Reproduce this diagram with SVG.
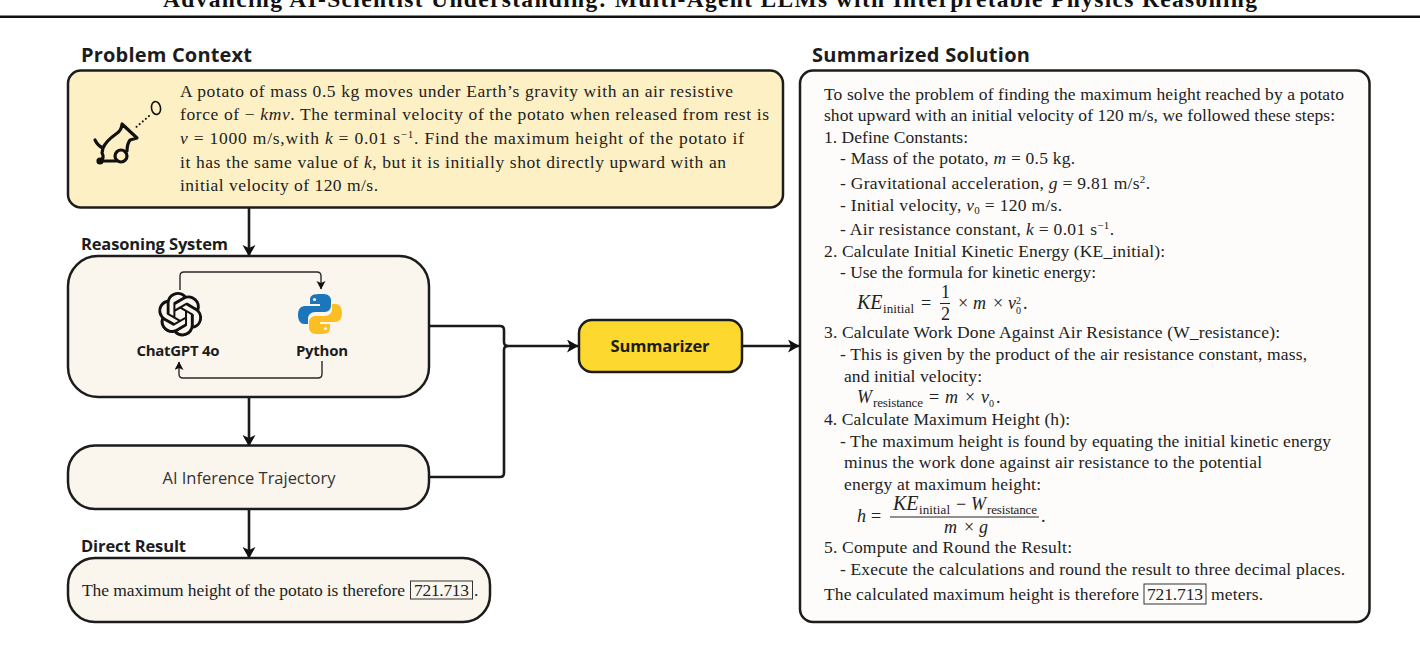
<svg xmlns="http://www.w3.org/2000/svg" xmlns:xlink="http://www.w3.org/1999/xlink" width="1420" height="658" viewBox="0 0 1420 658">
<style>
.box{stroke:#1c1c1c;stroke-width:2.5}
.h{font-family:"Open Sans","Noto Sans",sans-serif;font-weight:700;fill:#1c1c1c}
.t{font-family:"Liberation Serif",serif;font-size:17.5px;fill:#222}
.i{font-style:italic}
.s{font-size:11px}
.m{font-family:"Liberation Serif",serif;font-size:18px;fill:#222}
.mi{font-family:"Liberation Serif",serif;font-size:18px;font-style:italic;fill:#222}
.ke{font-family:"Liberation Serif",serif;font-size:20px;font-style:italic;fill:#222}
.sub{font-family:"Liberation Serif",serif;font-size:13px;fill:#222}
.c{fill:none;stroke:#1a1a1a;stroke-width:2.6}
.ci{fill:none;stroke:#2a2a2a;stroke-width:1.4}
</style>
<defs>
<marker id="a" markerUnits="userSpaceOnUse" markerWidth="12" markerHeight="14" refX="11" refY="6.5" orient="auto"><path d="M0,0 L11.5,6.5 L0,13 L3,6.5 Z" fill="#111"/></marker>
<marker id="b" markerUnits="userSpaceOnUse" markerWidth="10" markerHeight="10" refX="8" refY="4.5" orient="auto"><path d="M0,0 L8.5,4.5 L0,9 L2,4.5 Z" fill="#111"/></marker>
<path id="py" d="M319,294 c-8,0 -9,3 -9,6 v4 h10 v2 h-15 c-4,0 -7,3 -7,9 s3,9 6,9 h4 v-5 c0,-4 3,-7 7,-7 h10 c3,0 6,-3 6,-6 v-6 c0,-3 -3,-6 -7,-6 z"/>
</defs>
<rect width="1420" height="658" fill="#fff"/>
<text x="163" y="7" textLength="1094" style="font-family:'Liberation Serif',serif;font-weight:700;font-size:23.5px;fill:#111">Advancing AI-Scientist Understanding: Multi-Agent LLMs with Interpretable Physics Reasoning</text>
<rect x="0" y="15.5" width="1420" height="2.5" fill="#111"/>

<text class="h" x="81" y="62" font-size="20" textLength="171">Problem Context</text>
<text class="h" x="81" y="250" font-size="16.5" textLength="147">Reasoning System</text>
<text class="h" x="81" y="552" font-size="16.5" textLength="105">Direct Result</text>
<text class="h" x="812" y="62" font-size="20" textLength="218">Summarized Solution</text>

<g id="connectors">
<path class="c" d="M249,208 V256" marker-end="url(#a)"/>
<path class="c" d="M249,397 V446" marker-end="url(#a)"/>
<path class="c" d="M249,509 V558" marker-end="url(#a)"/>
<path class="c" d="M430,326 H500 Q504,326 504,330 V342 Q504,346 508,346 H578" marker-end="url(#a)"/>
<path class="c" d="M430,477 H500 Q504,477 504,473 V350 Q504,346 508,346"/>
<path class="c" d="M743,346 H799" marker-end="url(#a)"/>
</g>

<g id="problem">
<rect class="box" x="68" y="70.500" width="715" height="137" rx="13" fill="#fdf0c4"/>
<g id="cannon" fill="none" stroke="#111" stroke-width="3.2" stroke-linejoin="round" stroke-linecap="round">
<ellipse cx="156" cy="108" rx="4.500" ry="6.500" stroke-width="1.6" transform="rotate(-10 156 108)"/>
<path d="M149,116 L134,129" stroke-width="2" stroke-dasharray="0.1 4"/>
<path d="M122,124 L137,138 L130,140 Q127,144 127,151 M122,124 Q122,130 116,134 Q106,141 103,148 L102,153 Q105,158 100,161 L116,161 M95,140 Q98,146 103,148"/>
<circle cx="121" cy="156" r="6"/>
<circle cx="100" cy="161" r="2" fill="#111"/>
</g>
<text class="t" x="180" y="97" textLength="553">A potato of mass 0.5 kg moves under Earth’s gravity with an air resistive</text>
<text class="t" x="180" y="120" textLength="589">force of  − <tspan class="i">kmv</tspan>. The terminal velocity of the potato when released from rest is</text>
<text class="t" x="180" y="144" textLength="564"><tspan class="i">v</tspan> = 1000 m/s,with <tspan class="i">k</tspan> = 0.01 s<tspan class="s" dy="-6">−1</tspan><tspan dy="6">. Find the maximum height of the potato if</tspan></text>
<text class="t" x="180" y="168" textLength="546">it has the same value of <tspan class="i">k</tspan>, but it is initially shot directly upward with an</text>
<text class="t" x="180" y="191" textLength="198">initial velocity of 120 m/s.</text>
</g>

<g id="reasoning">
<rect class="box" x="68" y="256" width="361" height="141" rx="30" fill="#faf6ee"/>
<g id="chatgpt">
<path fill="#111" transform="translate(158,292) scale(1.85)" d="M22.2819 9.8211a5.9847 5.9847 0 0 0-.5157-4.9108 6.0462 6.0462 0 0 0-6.5098-2.9A6.0651 6.0651 0 0 0 4.9807 4.1818a5.9847 5.9847 0 0 0-3.9977 2.9 6.0462 6.0462 0 0 0 .7427 7.0966 5.98 5.98 0 0 0 .511 4.9107 6.051 6.051 0 0 0 6.5146 2.9001A5.9847 5.9847 0 0 0 13.2599 24a6.0557 6.0557 0 0 0 5.7718-4.2058 5.9894 5.9894 0 0 0 3.9977-2.9001 6.0557 6.0557 0 0 0-.7475-7.0729zm-9.022 12.6081a4.4755 4.4755 0 0 1-2.8764-1.0408l.1419-.0804 4.7783-2.7582a.7948.7948 0 0 0 .3927-.6813v-6.7369l2.02 1.1686a.071.071 0 0 1 .038.052v5.5826a4.504 4.504 0 0 1-4.4945 4.4944zm-9.6607-4.1254a4.4708 4.4708 0 0 1-.5346-3.0137l.142.0852 4.783 2.7582a.7712.7712 0 0 0 .7806 0l5.8428-3.3685v2.3324a.0804.0804 0 0 1-.0332.0615L9.74 19.9502a4.4992 4.4992 0 0 1-6.1408-1.6464zM2.3408 7.8956a4.485 4.485 0 0 1 2.3655-1.9728V11.6a.7664.7664 0 0 0 .3879.6765l5.8144 3.3543-2.0201 1.1685a.0757.0757 0 0 1-.071 0l-4.8303-2.7865A4.504 4.504 0 0 1 2.3408 7.872zm16.5963 3.8558L13.1038 8.364 15.1192 7.2a.0757.0757 0 0 1 .071 0l4.8303 2.7913a4.4944 4.4944 0 0 1-.6765 8.1042v-5.6772a.79.79 0 0 0-.407-.667zm2.0107-3.0231l-.142-.0852-4.7735-2.7818a.7759.7759 0 0 0-.7854 0L9.409 9.2297V6.8974a.0662.0662 0 0 1 .0284-.0615l4.8303-2.7866a4.4992 4.4992 0 0 1 6.6802 4.66zM8.3065 12.863l-2.02-1.1638a.0804.0804 0 0 1-.038-.0567V6.0742a4.4992 4.4992 0 0 1 7.3757-3.4537l-.142.0805L8.704 5.459a.7948.7948 0 0 0-.3927.6813zm1.0976-2.3654l2.602-1.4998 2.6069 1.4998v2.9994l-2.5974 1.4997-2.6067-1.4997Z"/>
<text class="h" x="178" y="356" font-size="15" text-anchor="middle" textLength="83">ChatGPT 4o</text>
</g>
<g id="python">
<use xlink:href="#py" href="#py" fill="#1c76bc"/>
<use xlink:href="#py" href="#py" fill="#fbbf24" transform="rotate(180 320 314)"/>
<circle cx="314.500" cy="299.500" r="1.600" fill="#faf6ee"/>
<circle cx="325.500" cy="328.500" r="1.600" fill="#faf6ee"/>
<text class="h" x="322" y="356" font-size="15" text-anchor="middle" textLength="52">Python</text>
</g>
<g id="inner-connectors">
<path class="ci" d="M180,290 V276 Q180,272 184,272 H317 Q321,272 321,276 V289" marker-end="url(#b)"/>
<path class="ci" d="M322,361 V374 Q322,378 318,378 H183 Q179,378 179,374 V362" marker-end="url(#b)"/>
</g>
</g>

<g id="trajectory">
<rect class="box" x="68" y="445.500" width="361" height="63.500" rx="27" fill="#faf6ee"/>
<text x="249" y="484" text-anchor="middle" textLength="173" style="font-family:'Open Sans','Noto Sans',sans-serif;font-size:16.500px;fill:#333">AI Inference Trajectory</text>
</g>

<g id="direct">
<rect class="box" x="68" y="558" width="422" height="64" rx="27" fill="#faf6ee"/>
<text class="t" x="82" y="596" textLength="323">The maximum height of the potato is therefore</text>
<rect x="410.500" y="581" width="62" height="18" fill="none" stroke="#333" stroke-width="1"/>
<text class="t" x="414" y="596" textLength="55">721.713</text>
<text class="t" x="474" y="596">.</text>
</g>

<g id="summarizer">
<rect class="box" x="579" y="320" width="163" height="52" rx="13" fill="#fdd92f"/>
<text class="h" x="660" y="352" font-size="16.500" text-anchor="middle" textLength="99">Summarizer</text>
</g>

<g id="solution">
<rect class="box" x="800" y="70.500" width="569.500" height="551.500" rx="13" fill="#fdfcfa"/>
<text class="t" x="824" y="100" textLength="520">To solve the problem of finding the maximum height reached by a potato</text>
<text class="t" x="824" y="121" textLength="511">shot upward with an initial velocity of 120 m/s, we followed these steps:</text>
<text class="t" x="824" y="143" textLength="144">1. Define Constants:</text>
<text class="t" x="840" y="164" textLength="235">- Mass of the potato, <tspan class="i">m</tspan> = 0.5 kg.</text>
<text class="t" x="840" y="189" textLength="310">- Gravitational acceleration, <tspan class="i">g</tspan> = 9.81 m/s<tspan class="s" dy="-6">2</tspan><tspan dy="6">.</tspan></text>
<text class="t" x="840" y="211" textLength="222">- Initial velocity, <tspan class="i">v</tspan><tspan class="s" dy="3">0</tspan><tspan dy="-3"> = 120 m/s.</tspan></text>
<text class="t" x="840" y="235" textLength="274">- Air resistance constant, <tspan class="i">k</tspan> = 0.01 s<tspan class="s" dy="-6">−1</tspan><tspan dy="6">.</tspan></text>
<text class="t" x="824" y="257" textLength="341">2. Calculate Initial Kinetic Energy (KE_initial):</text>
<text class="t" x="840" y="278" textLength="256">- Use the formula for kinetic energy:</text>

<g id="eq-ke">
<text class="ke" x="857" y="309">KE</text>
<text class="sub" x="883" y="313" textLength="31">initial</text>
<text class="m" x="921" y="309">=</text>
<text class="m" x="941" y="298">1</text>
<rect x="940" y="303" width="10" height="1" fill="#222"/>
<text class="m" x="941" y="320">2</text>
<text class="m" x="958" y="309">×</text>
<text class="mi" x="973" y="309">m</text>
<text class="m" x="993" y="309">×</text>
<text class="mi" x="1008" y="309">v</text>
<text class="sub" x="1016" y="304" style="font-size:10px">2</text>
<text class="sub" x="1016" y="314" style="font-size:10px">0</text>
<text class="m" x="1023" y="309">.</text>
</g>

<text class="t" x="824" y="338" textLength="456">3. Calculate Work Done Against Air Resistance (W_resistance):</text>
<text class="t" x="840" y="360" textLength="467">- This is given by the product of the air resistance constant, mass,</text>
<text class="t" x="844" y="382" textLength="138">and initial velocity:</text>

<g id="eq-w">
<text class="mi" x="857" y="403">W</text>
<text class="sub" x="873" y="407" textLength="50">resistance</text>
<text class="m" x="929" y="403">=</text>
<text class="mi" x="945" y="403">m</text>
<text class="m" x="965" y="403">×</text>
<text class="mi" x="981" y="403">v</text>
<text class="sub" x="989" y="407" style="font-size:10px">0</text>
<text class="m" x="996" y="403">.</text>
</g>

<text class="t" x="824" y="425" textLength="246">4. Calculate Maximum Height (h):</text>
<text class="t" x="840" y="447" textLength="491">- The maximum height is found by equating the initial kinetic energy</text>
<text class="t" x="844" y="468" textLength="418">minus the work done against air resistance to the potential</text>
<text class="t" x="844" y="490" textLength="197">energy at maximum height:</text>

<g id="eq-h">
<text class="mi" x="857" y="522">h</text>
<text class="m" x="871" y="522">=</text>
<text class="ke" x="893" y="510">KE</text>
<text class="sub" x="919" y="514" textLength="31">initial</text>
<text class="m" x="956" y="510">−</text>
<text class="mi" x="971" y="510">W</text>
<text class="sub" x="987" y="514" textLength="50">resistance</text>
<rect x="890" y="516.500" width="149" height="1" fill="#222"/>
<text class="mi" x="944" y="533">m</text>
<text class="m" x="964" y="533">×</text>
<text class="mi" x="979" y="533">g</text>
<text class="m" x="1041" y="522">.</text>
</g>

<text class="t" x="824" y="553" textLength="248">5. Compute and Round the Result:</text>
<text class="t" x="840" y="575" textLength="505">- Execute the calculations and round the result to three decimal places.</text>
<text class="t" x="824" y="600" textLength="315">The calculated maximum height is therefore</text>
<rect x="1144" y="584" width="62" height="20" fill="none" stroke="#333" stroke-width="1"/>
<text class="t" x="1147" y="600" textLength="56">721.713</text>
<text class="t" x="1211" y="600" textLength="52">meters.</text>
</g>
</svg>
